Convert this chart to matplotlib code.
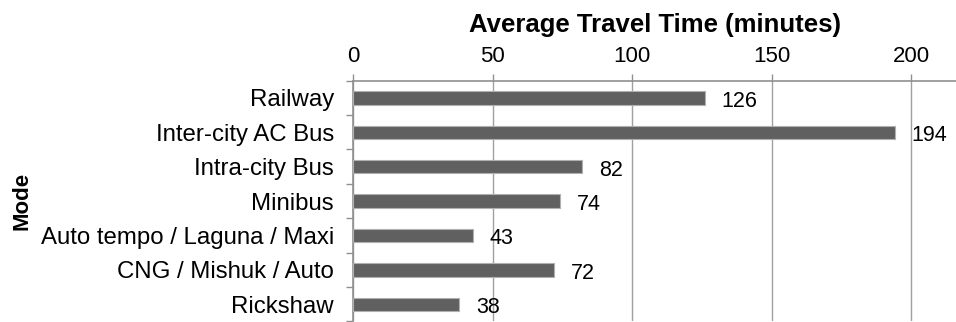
import matplotlib
matplotlib.use("Agg")
import matplotlib.pyplot as plt

modes = ["Railway", "Inter-city AC Bus", "Intra-city Bus", "Minibus",
         "Auto tempo / Laguna / Maxi", "CNG / Mishuk / Auto", "Rickshaw"]
times = [126, 194, 82, 74, 43, 72, 38]
xticks = [0, 50, 100, 150, 200]

plt.rcParams['font.family'] = ['Liberation Sans', 'DejaVu Sans']

fig = plt.figure(figsize=(9.56, 3.22), dpi=100)
ax = fig.add_axes([0.3696, 0.0016, 0.6304, 0.7478])

ypos = list(range(len(modes)))
ax.barh(ypos, times, height=0.39, color='#606060', edgecolor='#b0b0b0',
        linewidth=0.8, zorder=3)
for y, v in zip(ypos, times):
    ax.annotate(str(v), (v, y), xytext=(12, -2.5), textcoords='offset points',
                ha='left', va='center', fontsize=15.5, color='black')

ax.set_ylim(len(modes) - 0.5, -0.5)
ax.set_xlim(0, 216)
ax.set_xticks(xticks)
ax.xaxis.tick_top()
ax.xaxis.set_label_position('top')
ax.set_xlabel("Average Travel Time (minutes)", fontsize=18.5, fontweight='bold', labelpad=10)
ax.set_ylabel("Mode", fontsize=16, fontweight='bold', labelpad=6)

ax.set_yticks(ypos)
ax.set_yticklabels(modes, fontsize=17.3)
ax.set_yticks([i + 0.5 for i in range(-1, len(modes))], minor=True)
ax.tick_params(axis='y', which='major', length=0, pad=14)
ax.tick_params(axis='y', which='minor', length=5, color='#909090', width=1)
ax.tick_params(axis='x', which='major', length=5, color='#909090', width=1,
               labelsize=16, pad=5)

ax.grid(axis='x', color='#a0a0a0', linewidth=1, zorder=0)
for s in ['right', 'bottom']:
    ax.spines[s].set_visible(False)
for s in ['left', 'top']:
    ax.spines[s].set_color('#909090')
    ax.spines[s].set_linewidth(1.2)

fig.savefig("out.png", dpi=100)
